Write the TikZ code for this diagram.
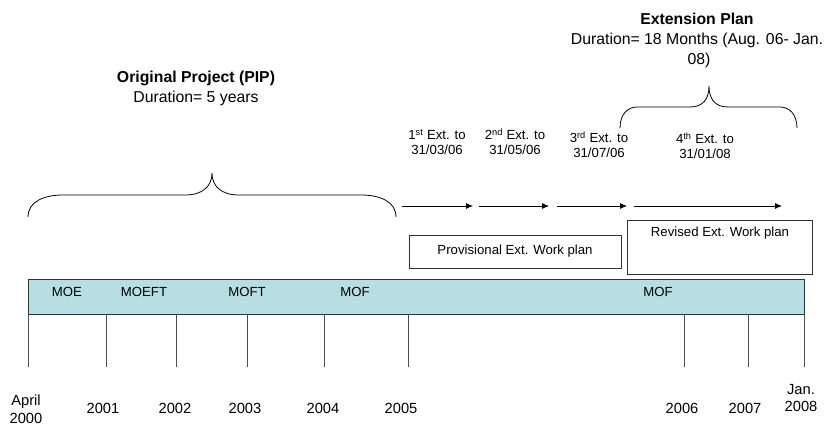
\documentclass[tikz,border=0pt]{standalone}
\usepackage{fontspec}
\setmainfont{Liberation Sans}
\usetikzlibrary{arrows.meta}
\definecolor{barfill}{RGB}{183,222,226}
\begin{document}
\begin{tikzpicture}[x=1pt,y=-1pt,
  lbl/.style={font=\fontsize{13.2}{15}\selectfont, inner sep=0pt, align=center},
  yr/.style={font=\fontsize{14.7}{17.5}\selectfont, inner sep=0pt, align=center},
  head/.style={font=\fontsize{15.8}{20}\selectfont, inner sep=0pt, align=center},
  boxst/.style={draw=black!80, line width=0.8pt, inner sep=0pt, outer sep=0pt},
  barst/.style={draw=black!80, fill=barfill, line width=0.8pt, inner sep=0pt, outer sep=0pt},
  tickst/.style={draw=black!70, line width=0.8pt},
  arr/.style={-{Latex[length=7pt,width=6pt]}, line width=0.8pt},
  bracest/.style={draw=black, line width=0.8pt}]
\useasboundingbox (0,0) rectangle (827,427);

% bar
\node[barst, minimum width=776pt, minimum height=35pt, anchor=north west] (bar) at (28,279) {};
\node[lbl] (moe) at (67,292) {MOE};
\node[lbl] (moeft) at (144,292) {MOEFT};
\node[lbl] (moft) at (247,292) {MOFT};
\node[lbl] (mof1) at (355,292) {MOF};
\node[lbl] (mof2) at (658,292) {MOF};

% ticks
\foreach \x [count=\i] in {28,106,176,247,324,408,684,748,804}{
  \coordinate (ttop\i) at (\x,314);
  \coordinate (tbot\i) at (\x,367);
  \draw[tickst] (ttop\i) -- (tbot\i);
}

% years
\node[yr] (y2000) at (26,409) {April\\2000};
\node[yr] (y2001) at (103,408) {2001};
\node[yr] (y2002) at (175,408) {2002};
\node[yr] (y2003) at (245,408) {2003};
\node[yr] (y2004) at (323,408) {2004};
\node[yr] (y2005) at (401,408) {2005};
\node[yr] (y2006) at (682,408) {2006};
\node[yr] (y2007) at (745,408) {2007};
\node[yr] (y2008) at (801,398) {Jan.\\2008};

% work plan boxes
\node[boxst, lbl, minimum width=212pt, minimum height=33pt] (prov) at (515,251.5) {Provisional Ext. Work plan};
\node[boxst, minimum width=185pt, minimum height=54pt, anchor=north west] (rev) at (627,220) {};
\node[lbl] (revt) at (720,233) {Revised Ext. Work plan};

% arrows
\coordinate (a1s) at (402,206); \coordinate (a1e) at (473,206);
\coordinate (a2s) at (479,206); \coordinate (a2e) at (549,206);
\coordinate (a3s) at (557,206); \coordinate (a3e) at (627,206);
\coordinate (a4s) at (634,206); \coordinate (a4e) at (782,206);
\draw[arr] (a1s) -- (a1e);
\draw[arr] (a2s) -- (a2e);
\draw[arr] (a3s) -- (a3e);
\draw[arr] (a4s) -- (a4e);

% extension labels
\node[lbl] (e1) at (437,142) {1\textsuperscript{st} Ext. to\\31/03/06};
\node[lbl] (e2) at (515,142) {2\textsuperscript{nd} Ext. to\\31/05/06};
\node[lbl] (e3) at (599,145) {3\textsuperscript{rd} Ext. to\\31/07/06};
\node[lbl] (e4) at (705,146) {4\textsuperscript{th} Ext. to\\31/01/08};

% left brace
\coordinate (lbL) at (28,217); \coordinate (lbR) at (396,217); \coordinate (lbT) at (212,173);
\draw[bracest] (lbL) .. controls (28,201) and (45,195) .. (63,195) -- (185,195)
  .. controls (203,195) and (212,186) .. (lbT)
  .. controls (212,186) and (221,195) .. (239,195) -- (361,195)
  .. controls (379,195) and (396,201) .. (lbR);

% right brace
\coordinate (rbL) at (620,128); \coordinate (rbR) at (797,128); \coordinate (rbT) at (709,86);
\draw[bracest] (rbL) .. controls (620,114) and (628,107) .. (637,107) -- (690,107)
  .. controls (703,107) and (709,99) .. (rbT)
  .. controls (709,99) and (715,107) .. (728,107) -- (780,107)
  .. controls (789,107) and (797,114) .. (rbR);

% headings
\node[head] (orig) at (196,88) {\textbf{Original Project (PIP)}\\Duration= 5 years};
\node[head] (ext) at (697,40.5) {\textbf{Extension Plan}\\Duration= 18 Months (Aug. 06- Jan.\\\hspace*{4pt}08)};
\end{tikzpicture}
\end{document}
